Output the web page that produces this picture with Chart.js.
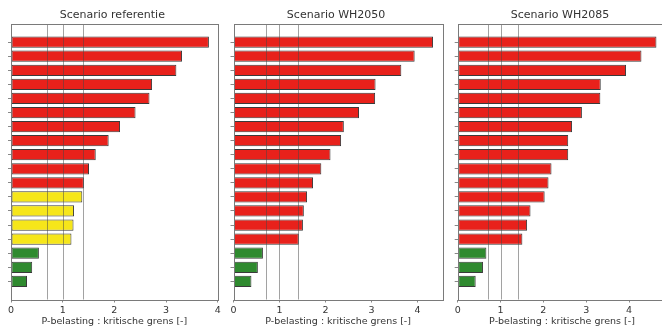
<!DOCTYPE html>
<html><head><meta charset="utf-8">
<script src="https://cdn.jsdelivr.net/npm/chart.js@4.4.1/dist/chart.umd.min.js"></script>
<style>
html,body{margin:0;padding:0;background:#fff;overflow:hidden;width:662px;height:332px;position:relative}
canvas{position:absolute;left:0;top:0}
</style></head><body>
<canvas id="c0" width="680" height="332"></canvas>
<canvas id="c1" width="680" height="332"></canvas>
<canvas id="c2" width="680" height="332"></canvas>
<script>
// ---- data ----
const categories = [0,1,2,3,4,5,6,7,8,9,10,11,12,13,14,15,16,17];
const titles = ['Scenario referentie','Scenario WH2050','Scenario WH2085'];
const referentie = [3.83,3.31,3.20,2.73,2.68,2.41,2.11,1.89,1.64,1.51,1.41,1.38,1.22,1.21,1.17,0.54,0.41,0.31];
const wh2050     = [4.34,3.94,3.65,3.09,3.08,2.73,2.40,2.34,2.11,1.91,1.73,1.60,1.53,1.51,1.42,0.64,0.53,0.39];
const wh2085     = [4.64,4.29,3.93,3.34,3.33,2.90,2.67,2.58,2.58,2.19,2.12,2.03,1.70,1.62,1.51,0.67,0.59,0.42];
const xTicks = [0,1,2,3,4];
const xMaxes = [4.0, 4.55, 4.87];
const refLines = [0.7, 1.0, 1.4];
const xAxisTitle = 'P-belasting : kritische grens [-]';

// ---- layout / style ----
const series = [referentie, wh2050, wh2085];
const areas = [[11,217.7],[233.5,442.7],[457.7,666.3]];
const CW = 680, YW = 4;
const RED = '#e8211b', YELLOW = '#f6e61a', GREEN = '#2f8a2f';
function colorFor(v){ return v >= refLines[2] ? RED : (v >= refLines[0] ? YELLOW : GREEN); }

const framePlugin = {
  id: 'frame',
  afterDatasetsDraw(chart){
    const {ctx, chartArea: a, scales: {x}} = chart;
    ctx.save();
    ctx.lineWidth = 1;
    ctx.strokeStyle = 'rgba(70,70,70,0.5)';
    refLines.forEach(v => {
      const px = Math.round(x.getPixelForValue(v)) + 0.5;
      ctx.beginPath(); ctx.moveTo(px, a.top); ctx.lineTo(px, a.bottom); ctx.stroke();
    });
    ctx.strokeStyle = '#7a7a7a';
    ctx.strokeRect(Math.round(a.left)+0.5, Math.round(a.top)+0.5, Math.round(a.right)-Math.round(a.left), Math.round(a.bottom)-Math.round(a.top));
    ctx.restore();
  }
};

const font = 'DejaVu Sans';
series.forEach((vals, i) => {
  const [l, r] = areas[i];
  new Chart(document.getElementById('c' + i), {
    type: 'bar',
    data: {
      datasets: [{
        data: vals.map((v, k) => ({x: v, y: categories[k]})),
        backgroundColor: vals.map(colorFor),
        borderColor: '#3a3a3a',
        borderWidth: 1,
        borderSkipped: false,
        barPercentage: 0.8,
        categoryPercentage: 1
      }]
    },
    options: {
      indexAxis: 'y',
      responsive: false,
      animation: false,
      devicePixelRatio: 1,
      layout: {padding: {left: l - YW, right: CW - r, top: 0, bottom: 0}},
      plugins: {
        legend: {display: false},
        tooltip: {enabled: false},
        title: {display: true, text: titles[i], color: '#333',
          font: {family: font, size: 11, weight: 'normal'}, padding: {top: 8.8, bottom: 2}}
      },
      scales: {
        y: {
          type: 'linear', reverse: true, min: -1.29, max: 18.29, offset: false,
          afterBuildTicks: s => { s.ticks = categories.map(v => ({value: v})); },
          afterFit: s => { s.width = YW; },
          ticks: {display: false},
          grid: {offset: false, drawOnChartArea: false, drawTicks: true, tickLength: 3, color: '#888'},
          border: {display: false}
        },
        x: {
          type: 'linear', min: 0, max: xMaxes[i], offset: false,
          afterBuildTicks: s => { s.ticks = xTicks.map(v => ({value: v})); },
          afterFit: s => { s.height = 32.5; },
          grid: {offset: false, drawOnChartArea: false, drawTicks: true, tickLength: 3, color: '#888'},
          border: {display: false},
          ticks: {color: '#333', font: {family: font, size: 9.5}, padding: 2, maxRotation: 0, autoSkip: false},
          title: {display: true, text: xAxisTitle, color: '#333',
            font: {family: font, size: 9.5}, padding: {top: 0, bottom: 5}}
        }
      }
    },
    plugins: [framePlugin]
  });
});
</script>
</body></html>
